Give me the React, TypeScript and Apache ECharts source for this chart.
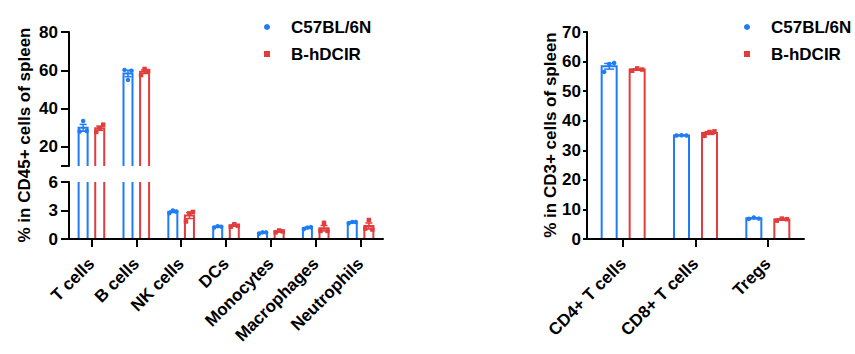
import React, { useEffect, useRef } from "react";
import * as echarts from "echarts";

const LEFT_CATS = ["T cells", "B cells", "NK cells", "DCs", "Monocytes", "Macrophages", "Neutrophils"];
const LEFT_WT = [
  [28.0, 33.5, 28.3],
  [60.2, 55.0, 59.8],
  [2.7, 3.0, 2.9],
  [1.2, 1.35, 1.3],
  [0.55, 0.7, 0.7],
  [1.05, 1.2, 1.25],
  [1.65, 1.8, 1.8],
];
const LEFT_HU = [
  [27.8, 29.8, 31.6],
  [57.5, 60.7, 59.6],
  [1.85, 2.7, 2.85],
  [1.3, 1.55, 1.4],
  [0.7, 0.9, 0.8],
  [0.85, 1.7, 0.85],
  [1.1, 2.0, 1.0],
];
const RIGHT_CATS = ["CD4+ T cells", "CD8+ T cells", "Tregs"];
const RIGHT_WT = [
  [56.5, 59.2, 59.5],
  [35.0, 35.1, 35.0],
  [6.8, 7.3, 6.9],
];
const RIGHT_HU = [
  [56.9, 57.7, 57.3],
  [34.9, 36.2, 36.4],
  [6.2, 6.9, 6.7],
];
const UPPER_LABELS = [20, 40, 60, 80];
const UPPER_TICKS = [10, 20, 40, 60, 80];

const WT_NAME = "C57BL/6N";
const HU_NAME = "B-hDCIR";
const LEFT_TITLE = "% in CD45+ cells of spleen";
const RIGHT_TITLE = "% in CD3+ cells of spleen";

const BLUE = "#1d7cf6";
const RED = "#e33c3c";
const FONT = "Liberation Sans";

const mean = (a: number[]) => a.reduce((s, v) => s + v, 0) / a.length;
const sem = (a: number[]) => {
  const m = mean(a);
  const v = a.reduce((s, x) => s + (x - m) * (x - m), 0) / (a.length - 1);
  return Math.sqrt(v) / Math.sqrt(a.length);
};

function makeRender(offset: number, barW: number, color: string, shape: "circle" | "rect", spread: number, size: number, cap: number) {
  return (params: any, api: any) => {
    const cat = api.value(0);
    const pts = [api.value(1), api.value(2), api.value(3)];
    const m = mean(pts);
    const s = sem(pts);
    const c = api.coord([cat, m]);
    const base = api.coord([cat, 0]);
    const top = api.coord([cat, m + s]);
    const bot = api.coord([cat, m - s]);
    const x = c[0] + offset;
    const ls = { stroke: color, lineWidth: 1.5 };
    const children: any[] = [
      {
        type: "rect",
        shape: { x: x - barW / 2, y: c[1], width: barW, height: base[1] - c[1] },
        style: { fill: "#fff", stroke: color, lineWidth: 2 },
      },
      { type: "line", shape: { x1: x, y1: top[1], x2: x, y2: bot[1] }, style: ls },
      { type: "line", shape: { x1: x - cap, y1: top[1], x2: x + cap, y2: top[1] }, style: ls },
      { type: "line", shape: { x1: x - cap, y1: bot[1], x2: x + cap, y2: bot[1] }, style: ls },
    ];
    pts.forEach((p: number, i: number) => {
      const pc = api.coord([cat, p]);
      const px = x + (i - 1) * spread;
      if (shape === "circle") {
        children.push({ type: "circle", shape: { cx: px, cy: pc[1], r: size / 2 }, style: { fill: color } });
      } else {
        children.push({
          type: "rect",
          shape: { x: px - size / 2, y: pc[1] - size / 2, width: size, height: size },
          style: { fill: color },
        });
      }
    });
    return { type: "group", children };
  };
}

const labelFont = { fontFamily: FONT, fontWeight: "bold" as const, color: "#000", fontSize: 17 };

function groupSeries(name: string, color: string, data: number[][], idx: number, offset: number, barW: number, shape: "circle" | "rect", spread: number, size: number, cap: number) {
  return {
    type: "custom",
    name,
    xAxisIndex: idx,
    yAxisIndex: idx,
    clip: true,
    z: 3,
    encode: { x: 0, y: 1 },
    data: data.map((p, i) => [i, p[0], p[1], p[2]]),
    renderItem: makeRender(offset, barW, color, shape, spread, size, cap),
  };
}

const yAxisBase = {
  z: 5,
  axisLine: { show: true, lineStyle: { color: "#000", width: 2 } },
  axisTick: { show: true, length: 8, lineStyle: { color: "#000", width: 2 } },
  splitLine: { show: false },
  axisLabel: { ...labelFont, margin: 11 },
};

const xAxisBase = {
  type: "category",
  z: 5,
  axisLine: { show: true, lineStyle: { color: "#000", width: 2 } },
  axisTick: { show: true, alignWithLabel: true, length: 8, lineStyle: { color: "#000", width: 2 } },
  axisLabel: { ...labelFont, rotate: 45, margin: 22, interval: 0 },
};

const legendBase = {
  top: 18,
  orient: "vertical",
  padding: 0,
  itemWidth: 6,
  itemHeight: 6,
  itemGap: 9,
  selectedMode: false,
  data: [
    { name: WT_NAME, icon: "circle", itemStyle: { color: BLUE, borderWidth: 0 } },
    { name: HU_NAME, icon: "rect", itemStyle: { color: RED, borderWidth: 0 } },
  ],
  textStyle: { ...labelFont, lineHeight: 18, padding: [0, 0, 0, 16] },
};

function title(text: string, x: number) {
  return {
    type: "text",
    x,
    y: 135,
    rotation: Math.PI / 2,
    style: {
      text,
      font: `bold 17px "${FONT}"`,
      fill: "#000",
      textAlign: "center",
      textVerticalAlign: "middle",
      align: "center",
      verticalAlign: "middle",
    },
  };
}

export default function App() {
  const ref = useRef<HTMLDivElement>(null);
  useEffect(() => {
    document.body.style.margin = "0";
    if (!ref.current) return;
    const chart = echarts.init(ref.current, null, { renderer: "svg" });
    const L_OFF = 8.3;
    const L_W = 9;
    const R_OFF = 14;
    const R_W = 15;
    const option: any = {
      animation: false,
      backgroundColor: "#fff",
      grid: [
        { left: 69, top: 32, width: 314, height: 134 },
        { left: 69, top: 182, width: 314, height: 57 },
        { left: 587, top: 32, width: 217, height: 207 },
      ],
      legend: [
        { ...legendBase, left: 264 },
        { ...legendBase, left: 744 },
      ],
      xAxis: [
        { gridIndex: 0, type: "category", data: LEFT_CATS, show: false },
        { ...xAxisBase, gridIndex: 1, data: LEFT_CATS },
        { ...xAxisBase, gridIndex: 2, data: RIGHT_CATS },
      ],
      yAxis: [
        {
          ...yAxisBase,
          gridIndex: 0,
          type: "value",
          min: 10,
          max: 80,
          interval: 10,
          axisTick: { ...yAxisBase.axisTick, customValues: UPPER_TICKS },
          axisLabel: { ...yAxisBase.axisLabel, customValues: UPPER_LABELS },
        },
        { ...yAxisBase, gridIndex: 1, type: "value", min: 0, max: 6, interval: 3 },
        {
          ...yAxisBase,
          gridIndex: 2,
          type: "value",
          min: 0,
          max: 70,
          interval: 10,
          axisTick: { ...yAxisBase.axisTick, length: 4 },
          axisLabel: { ...yAxisBase.axisLabel, margin: 6 },
        },
      ],
      graphic: [title(LEFT_TITLE, 24), title(RIGHT_TITLE, 550)],
      series: [
        groupSeries(WT_NAME, BLUE, LEFT_WT, 0, -L_OFF, L_W, "circle", 3.5, 4.5, 3.5),
        groupSeries(HU_NAME, RED, LEFT_HU, 0, L_OFF, L_W, "rect", 3.5, 4.5, 3.5),
        groupSeries(WT_NAME, BLUE, LEFT_WT, 1, -L_OFF, L_W, "circle", 3.5, 4.5, 3.5),
        groupSeries(HU_NAME, RED, LEFT_HU, 1, L_OFF, L_W, "rect", 3.5, 4.5, 3.5),
        groupSeries(WT_NAME, BLUE, RIGHT_WT, 2, -R_OFF, R_W, "circle", 5, 4.5, 5),
        groupSeries(HU_NAME, RED, RIGHT_HU, 2, R_OFF, R_W, "rect", 5, 4.5, 5),
      ],
    };
    chart.setOption(option);
    return () => chart.dispose();
  }, []);
  return <div ref={ref} style={{ width: 855, height: 354 }} />;
}
